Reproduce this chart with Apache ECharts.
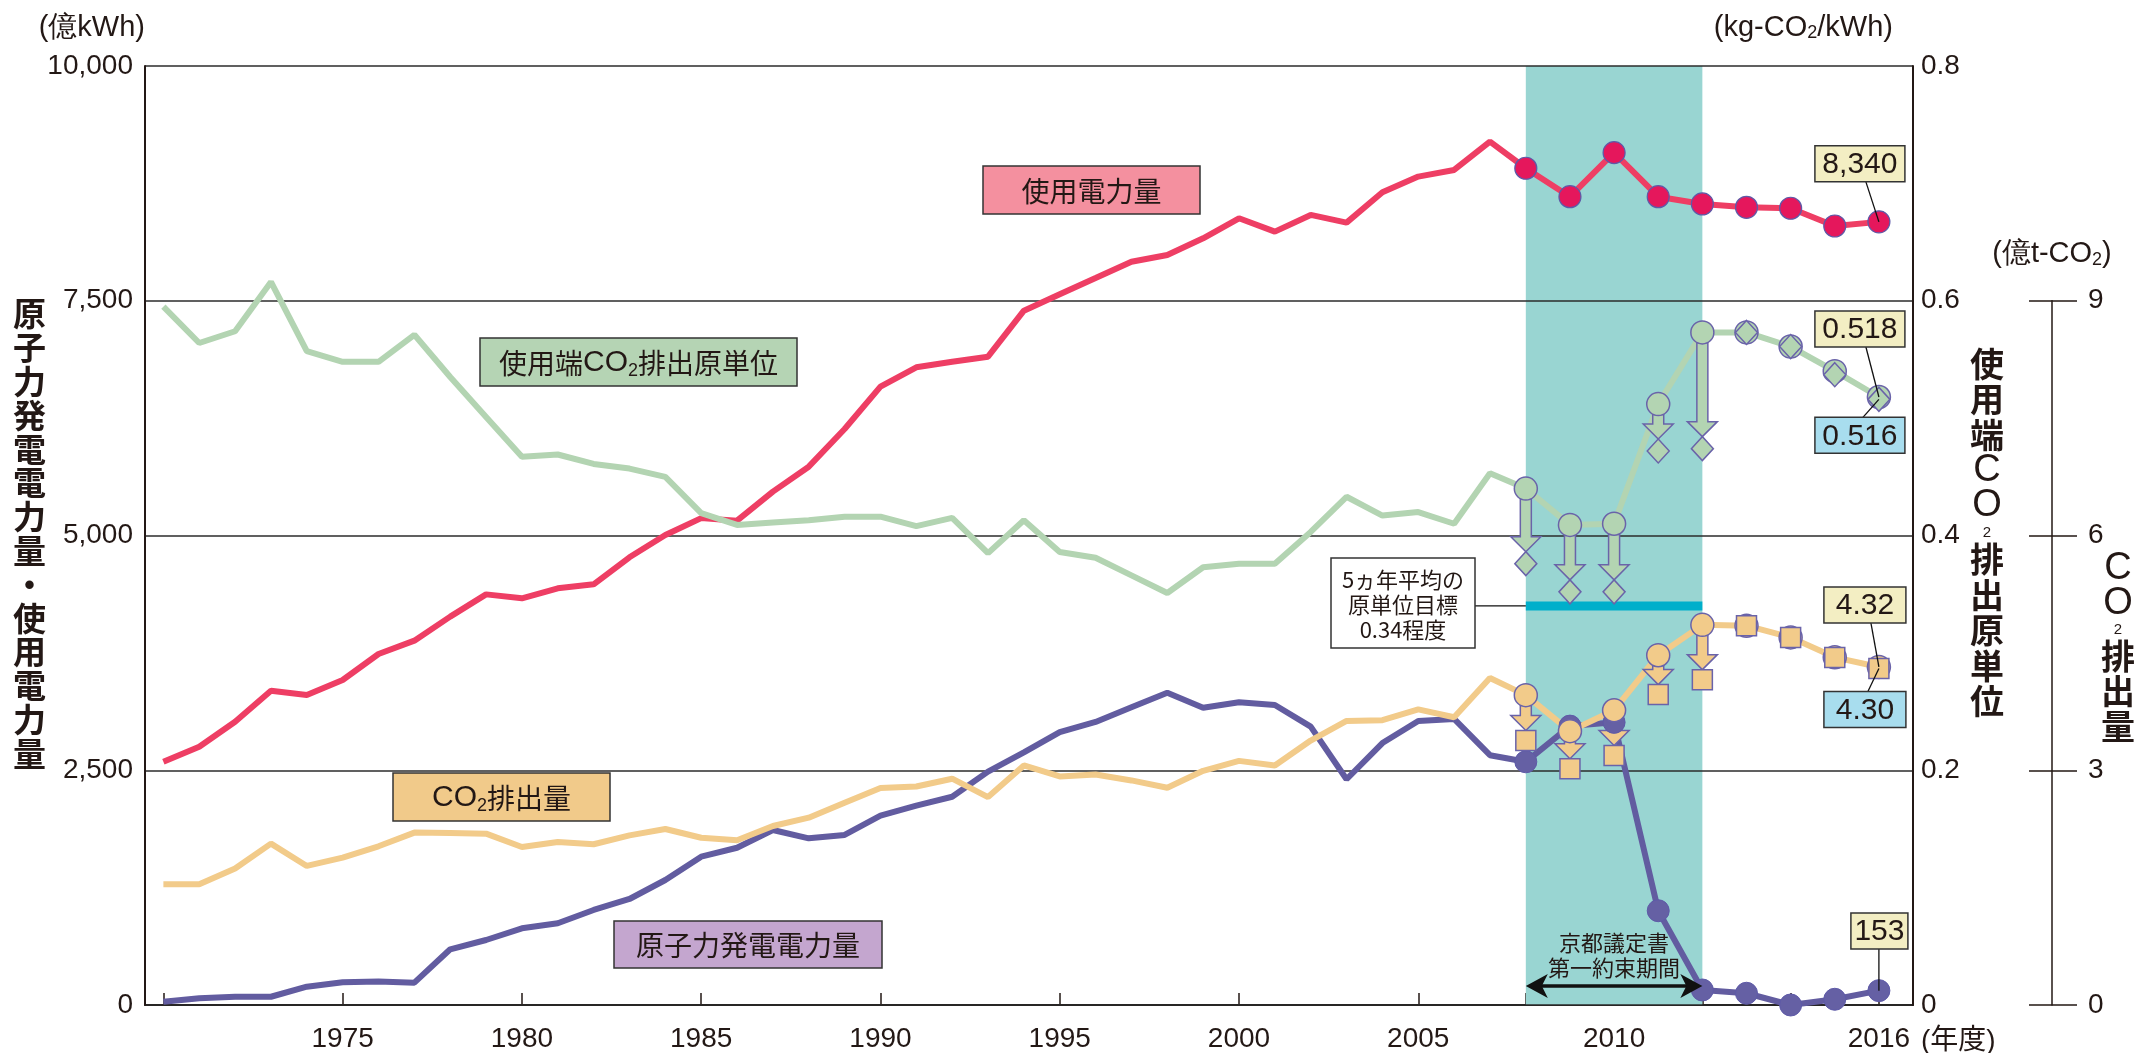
<!DOCTYPE html>
<html><head><meta charset="utf-8">
<script src="https://cdn.jsdelivr.net/npm/echarts@6/dist/echarts.min.js"></script>
<style>html,body{margin:0;padding:0;background:#fff}#c{width:2136px;height:1053px}</style>
</head><body><div id="c"></div>
<script>
// ---------------- data ----------------
const years = [1970,1971,1972,1973,1974,1975,1976,1977,1978,1979,
  1980,1981,1982,1983,1984,1985,1986,1987,1988,1989,
  1990,1991,1992,1993,1994,1995,1996,1997,1998,1999,
  2000,2001,2002,2003,2004,2005,2006,2007,2008,2009,
  2010,2011,2012,2013,2014,2015,2016];
// 使用電力量 (億kWh)
const electricity = [2590,2750,3017,3347,3301,3461,3738,3880,4136,4373,
  4331,4438,4480,4768,5005,5185,5158,5467,5733,6134,
  6585,6791,6851,6904,7394,7569,7742,7916,7987,8165,
  8378,8236,8414,8332,8655,8822,8893,9195,8911,8608,
  9077,8608,8531,8495,8485,8296,8340];
// 原子力発電電力量 (億kWh)
const nuclear = [35,71,88,88,195,242,249,238,593,692,
  817,870,1012,1129,1331,1580,1675,1864,1775,1811,
  2016,2123,2218,2485,2690,2906,3014,3170,3326,3166,
  3225,3195,2964,2404,2790,3025,3046,2660,2590,2970,
  3010,1004,160,125,0,61,153];
// 使用端CO2排出原単位 (kg-CO2/kWh)
const intensity = [0.595,0.564,0.574,0.616,0.557,0.548,0.548,0.571,0.535,0.501,
  0.467,0.469,0.461,0.457,0.450,0.419,0.409,0.411,0.413,0.416,
  0.416,0.408,0.415,0.385,0.413,0.386,0.381,0.366,0.351,0.373,
  0.376,0.376,0.403,0.433,0.417,0.420,0.410,0.453,0.440,0.409,
  0.410,0.512,0.573,0.573,0.561,0.540,0.518];
// CO2排出量 (億t-CO2)
const emissions = [1.543,1.543,1.744,2.062,1.777,1.884,2.028,2.203,2.198,2.190,
  2.019,2.083,2.054,2.168,2.249,2.137,2.105,2.287,2.394,2.585,
  2.772,2.793,2.892,2.657,3.061,2.921,2.946,2.870,2.777,2.993,
  3.120,3.061,3.380,3.630,3.640,3.778,3.677,4.178,3.960,3.500,
  3.767,4.470,4.858,4.847,4.698,4.443,4.320];
// values after credits (2008-2016)
const creditYears = [2008,2009,2010,2011,2012,2013,2014,2015,2016];
const intensityAdj = [0.376,0.352,0.352,0.472,0.474,0.573,0.561,0.537,0.516];
const emissionsAdj = [3.380,3.019,3.189,3.967,4.158,4.847,4.698,4.440,4.300];
// Kyoto first commitment period & target
const kyotoStart = 2008, kyotoEnd = 2012;
const intensityTarget = 0.34;
// axis ticks / labels
const xTickYears = [1970,1975,1980,1985,1990,1995,2000,2005,2008,2009,2010,2011,2012,2013,2014,2015,2016];
const xLabelYears = [1975,1980,1985,1990,1995,2000,2005,2010,2016];
const leftAxisMax = 10000, leftAxisStep = 2500;
const rightAxisMax = 0.8, rightAxisStep = 0.2;
const co2AxisShownMax = 9, co2AxisMax = 12, co2AxisStep = 3;

// ---------------- helpers ----------------
// the reference widens the years from 2008 on
const BREAK = 2008, STRETCH = 1.231;
const xv = y => y <= BREAK ? y : BREAK + (y - BREAK) * STRETCH;
const invXv = v => v <= BREAK ? v : BREAK + (v - BREAK) / STRETCH;
const X_MIN = 1969.487, X_MAX = xv(2016) + 0.951;

const INK = '#231815';
const NUM = "'Liberation Sans', Arial, sans-serif";
const JP = "'Noto Sans CJK JP', sans-serif";
const C_RED = '#EE3E64', C_RED_M = '#E5175C';
const C_GREEN = '#B3D4B2';
const C_PURPLE = '#625CA0';
const C_ORANGE = '#F2CB8A';
const C_EDGE = '#6A63A9';

const idx08 = years.indexOf(BREAK);
const pairs = arr => years.map((y, i) => [xv(y), arr[i]]);
const fromIdx = (arr) => years.slice(idx08).map((y, i) => [xv(y), arr[idx08 + i]]);

function arrowRender(tipGap) {
  return function (params, api) {
    const x = api.value(0);
    const p0 = api.coord([x, api.value(1)]);
    const p1 = api.coord([x, api.value(2)]);
    const tip = p1[1] - tipGap;
    if (tip - p0[1] < 16) return null;
    const hb = tip - 15, sw = 5.5, hw = 15, cx = p0[0];
    return {
      type: 'polygon',
      shape: { points: [[cx - sw, p0[1]], [cx + sw, p0[1]], [cx + sw, hb], [cx + hw, hb], [cx, tip], [cx - hw, hb], [cx - sw, hb]] },
      style: { fill: api.visual('color'), stroke: C_EDGE, lineWidth: 1.5 }
    };
  };
}

const labelStyle = { fontSize: 28, fontFamily: NUM, color: INK };
const subRich = { s: { fontSize: 18, fontFamily: NUM, color: INK, verticalAlign: 'bottom', lineHeight: 22 } };

const option = {
  animation: false,
  backgroundColor: '#ffffff',
  grid: [
    { left: 145, right: 223, top: 66, height: 939 },
    { left: 2052, width: 1, top: 66 + 939 * (1 - co2AxisShownMax / co2AxisMax), height: 939 * co2AxisShownMax / co2AxisMax }
  ],
  xAxis: [
    { gridIndex: 0, type: 'value', min: X_MIN, max: X_MAX,
      axisLine: { show: true, onZero: false, lineStyle: { color: INK, width: 2 } },
      axisTick: { show: true, inside: true, length: 12, customValues: xTickYears.map(xv), lineStyle: { color: INK, width: 1.5 } },
      axisLabel: Object.assign({ customValues: xLabelYears.map(xv), margin: 20,
        formatter: v => String(Math.round(invXv(v))) }, labelStyle),
      splitLine: { show: false } },
    { gridIndex: 1, type: 'value', min: 0, max: 1, show: false }
  ],
  yAxis: [
    { gridIndex: 0, type: 'value', position: 'left', min: 0, max: leftAxisMax, interval: leftAxisStep, z: 2,
      axisLine: { show: true, lineStyle: { color: INK, width: 2 } },
      axisTick: { show: false },
      axisLabel: Object.assign({ margin: 12, formatter: v => v.toLocaleString('en-US') }, labelStyle),
      splitLine: { show: true, lineStyle: { color: '#2b2b2b', width: 1.5 } },
      name: '(億kWh)', nameLocation: 'end', nameGap: 24,
      nameTextStyle: { align: 'right', fontSize: 29, fontFamily: NUM, color: INK } },
    { gridIndex: 0, type: 'value', position: 'right', min: 0, max: rightAxisMax, interval: rightAxisStep, z: 2,
      axisLine: { show: true, lineStyle: { color: INK, width: 2 } },
      axisTick: { show: false },
      axisLabel: Object.assign({ margin: 8, formatter: v => v === 0 ? '0' : v.toFixed(1) }, labelStyle),
      splitLine: { show: false },
      name: '(kg-CO{s|2}/kWh)', nameLocation: 'end', nameGap: 24,
      nameTextStyle: { align: 'right', padding: [0, 20, 0, 0], fontSize: 29, fontFamily: NUM, color: INK, rich: subRich } },
    { gridIndex: 0, type: 'value', min: 0, max: co2AxisMax, show: false },
    { gridIndex: 1, type: 'value', position: 'right', min: 0, max: co2AxisShownMax, interval: co2AxisStep,
      axisLine: { show: true, lineStyle: { color: INK, width: 1.5 } },
      axisTick: { show: true, length: 25, lineStyle: { color: INK, width: 1.5 } },
      axisLabel: Object.assign({ margin: 35 }, labelStyle),
      splitLine: { show: false },
      name: '(億t-CO{s|2})', nameLocation: 'end', nameGap: 32,
      nameTextStyle: { align: 'center', fontSize: 29, fontFamily: NUM, color: INK, rich: subRich } },
    { gridIndex: 1, type: 'value', position: 'left', min: 0, max: co2AxisShownMax, interval: co2AxisStep,
      axisLine: { show: false }, axisLabel: { show: false }, splitLine: { show: false },
      axisTick: { show: true, length: 23, lineStyle: { color: INK, width: 1.5 } } }
  ],
  series: [
    { name: 'band', type: 'line', data: [], xAxisIndex: 0, yAxisIndex: 0, z: 1, silent: true,
      markArea: { silent: true, itemStyle: { color: '#99D5D2', opacity: 1 },
        data: [[{ xAxis: xv(kyotoStart) }, { xAxis: xv(kyotoEnd) }]] } },
    { name: '使用電力量', type: 'line', yAxisIndex: 0, data: pairs(electricity), showSymbol: false, z: 3,
      lineStyle: { color: C_RED, width: 6 }, itemStyle: { color: C_RED } },
    { name: '使用端CO2排出原単位', type: 'line', yAxisIndex: 1, data: pairs(intensity), showSymbol: false, z: 3,
      lineStyle: { color: C_GREEN, width: 6 }, itemStyle: { color: C_GREEN } },
    { name: '原子力発電電力量', type: 'line', yAxisIndex: 0, data: pairs(nuclear), showSymbol: false, z: 3,
      lineStyle: { color: C_PURPLE, width: 6 }, itemStyle: { color: C_PURPLE } },
    { name: 'CO2排出量', type: 'line', yAxisIndex: 2, data: pairs(emissions), showSymbol: false, z: 3,
      lineStyle: { color: C_ORANGE, width: 6 }, itemStyle: { color: C_ORANGE } },
    { name: 'target', type: 'line', yAxisIndex: 1, showSymbol: false, z: 3,
      data: [[xv(kyotoStart), intensityTarget], [xv(kyotoEnd), intensityTarget]],
      lineStyle: { color: '#00AFCB', width: 9, cap: 'butt' } },
    { name: 'arrowG', type: 'custom', yAxisIndex: 1, z: 4, itemStyle: { color: C_GREEN },
      encode: { x: 0, y: [1, 2] }, renderItem: arrowRender(12),
      data: creditYears.map((y, i) => [xv(y), intensity[years.indexOf(y)], intensityAdj[i]]) },
    { name: 'arrowO', type: 'custom', yAxisIndex: 2, z: 4, itemStyle: { color: C_ORANGE },
      encode: { x: 0, y: [1, 2] }, renderItem: arrowRender(10),
      data: creditYears.map((y, i) => [xv(y), emissions[years.indexOf(y)], emissionsAdj[i]]) },
    { type: 'scatter', yAxisIndex: 0, z: 5, data: fromIdx(electricity), symbol: 'circle', symbolSize: 22,
      itemStyle: { color: C_RED_M, borderColor: '#5E5AA8', borderWidth: 1.2, opacity: 1 } },
    { type: 'scatter', yAxisIndex: 0, z: 5, data: fromIdx(nuclear), symbol: 'circle', symbolSize: 22,
      itemStyle: { color: '#6560A4', borderColor: '#5E5AA8', borderWidth: 1, opacity: 1 } },
    { type: 'scatter', yAxisIndex: 1, z: 5, data: fromIdx(intensity), symbol: 'circle', symbolSize: 23,
      itemStyle: { color: C_GREEN, borderColor: C_EDGE, borderWidth: 1.5, opacity: 1 } },
    { type: 'scatter', yAxisIndex: 2, z: 5, data: fromIdx(emissions), symbol: 'circle', symbolSize: 23,
      itemStyle: { color: C_ORANGE, borderColor: C_EDGE, borderWidth: 1.5, opacity: 1 } },
    { type: 'scatter', yAxisIndex: 1, z: 6, data: creditYears.map((y, i) => [xv(y), intensityAdj[i]]),
      symbol: 'diamond', symbolSize: [22, 24],
      itemStyle: { color: C_GREEN, borderColor: C_EDGE, borderWidth: 1.5, opacity: 1 } },
    { type: 'scatter', yAxisIndex: 2, z: 6, data: creditYears.map((y, i) => [xv(y), emissionsAdj[i]]),
      symbol: 'rect', symbolSize: 20,
      itemStyle: { color: C_ORANGE, borderColor: C_EDGE, borderWidth: 1.5, opacity: 1 } }
  ]
};

const chart = echarts.init(document.getElementById('c'));
chart.setOption(option);

// ---------------- annotations ----------------
const px = (ax, year, val) => chart.convertToPixel({ xAxisIndex: 0, yAxisIndex: ax }, [xv(year), val]);
const last = years.length - 1, lastYear = years[last];
const G = [];
const EDGE = '#333333';

function box(x, y, w, h, fill, text, rich, font) {
  G.push({ type: 'rect', z: 100, shape: { x, y, width: w, height: h },
    style: { fill, stroke: EDGE, lineWidth: 1.5 } });
  G.push({ type: 'text', z: 101, style: { x: x + w / 2, y: y + h / 2 + 1, text, rich, font,
    fill: INK, align: 'center', verticalAlign: 'middle' } });
}
function connector(x1, y1, x2, y2) {
  G.push({ type: 'line', z: 99, shape: { x1, y1, x2, y2 }, style: { stroke: '#111', lineWidth: 1.3 } });
}
const jpRich = {
  j: { fontFamily: JP, fontSize: 28, fill: INK, lineHeight: 34 },
  c: { fontFamily: NUM, fontSize: 30, fill: INK, lineHeight: 34 },
  s: { fontFamily: NUM, fontSize: 18, fill: INK, lineHeight: 26, verticalAlign: 'bottom' }
};
// series name boxes
box(983, 166, 217, 48, '#F4909F', '{j|使用電力量}', jpRich);
box(480, 338, 317, 48, '#B5D4B4', '{j|使用端}{c|CO}{s|2}{j|排出原単位}', jpRich);
box(393, 773, 217, 48, '#F1CA8A', '{c|CO}{s|2}{j|排出量}', jpRich);
box(614, 921, 268, 47, '#C4A6CF', '{j|原子力発電電力量}', jpRich);

// value boxes attached to the last year's points
const VFONT = "30px 'Liberation Sans', Arial, sans-serif";
function valueBox(p, dx, dy, w, text, fill, lineFromTop) {
  const cx = p[0] + dx, cy = p[1] + dy, h = 36;
  const ly = lineFromTop ? cy - h / 2 : cy + h / 2;
  connector(cx + (lineFromTop ? 3 : 6), ly, p[0], p[1]);
  box(cx - w / 2, cy - h / 2, w, h, fill, text, null, VFONT);
}
const YEL = '#F3EEC3', BLU = '#A8DDEE';
valueBox(px(0, lastYear, electricity[last]), -19, -58, 90, electricity[last].toLocaleString('en-US'), YEL, false);
valueBox(px(1, lastYear, intensity[last]), -19, -68, 90, intensity[last].toFixed(3), YEL, false);
valueBox(px(1, lastYear, intensityAdj[intensityAdj.length - 1]), -19, 36, 90, intensityAdj[intensityAdj.length - 1].toFixed(3), BLU, true);
valueBox(px(2, lastYear, emissions[last]), -14, -62, 82, emissions[last].toFixed(2), YEL, false);
valueBox(px(2, lastYear, emissionsAdj[emissionsAdj.length - 1]), -14, 41, 82, emissionsAdj[emissionsAdj.length - 1].toFixed(2), BLU, true);
(function () {
  const p = px(0, lastYear, nuclear[last]);
  const cx = p[0] + 0.5, cy = p[1] - 59.6;
  connector(p[0], cy + 18, p[0], p[1]);
  box(cx - 28.5, cy - 18, 57, 36, YEL, String(nuclear[last]), null, VFONT);
})();

// target note
(function () {
  const t = px(1, kyotoStart, intensityTarget);
  connector(1475, t[1], t[0], t[1]);
  G.push({ type: 'rect', z: 100, shape: { x: 1331, y: 558, width: 144, height: 90 },
    style: { fill: '#fff', stroke: EDGE, lineWidth: 1.5 } });
  G.push({ type: 'text', z: 101, style: { x: 1403, y: 605, text: '5ヵ年平均の\n原単位目標\n0.34程度',
    font: "22px 'Noto Sans CJK JP', sans-serif", lineHeight: 25, fill: INK, align: 'center', verticalAlign: 'middle' } });
})();

// Kyoto period arrow and text
(function () {
  const a = px(0, kyotoStart, 0), b = px(0, kyotoEnd, 0), m = px(0, 2010, 0);
  const y = 986;
  G.push({ type: 'text', z: 101, style: { x: m[0], y: 955, text: '京都議定書\n第一約束期間',
    font: "22px 'Noto Sans CJK JP', sans-serif", lineHeight: 25, fill: INK, align: 'center', verticalAlign: 'middle' } });
  G.push({ type: 'line', z: 100, shape: { x1: a[0] + 15, y1: y, x2: b[0] - 15, y2: y }, style: { stroke: '#111', lineWidth: 3.5 } });
  G.push({ type: 'polygon', z: 100, shape: { points: [[a[0], y], [a[0] + 22, y - 12], [a[0] + 16, y], [a[0] + 22, y + 12]] }, style: { fill: '#111' } });
  G.push({ type: 'polygon', z: 100, shape: { points: [[b[0], y], [b[0] - 22, y - 12], [b[0] - 16, y], [b[0] - 22, y + 12]] }, style: { fill: '#111' } });
})();

// (年度)
G.push({ type: 'text', z: 101, style: { x: 1921, y: 1027, text: '(年度)', font: "28px 'Liberation Sans', 'Noto Sans CJK JP', sans-serif",
  fill: INK, align: 'left', verticalAlign: 'top' } });

// vertical axis titles
const vRich = {
  j: { fontFamily: JP, fontSize: 34, fontWeight: 'bold', fill: INK, lineHeight: 35.5 },
  c: { fontFamily: NUM, fontSize: 38, fill: INK, lineHeight: 35.5 },
  s: { fontFamily: NUM, fontSize: 15, fill: INK, lineHeight: 18 }
};
const vt = (parts) => parts.join('\n');
G.push({ type: 'text', z: 101, style: { x: 29.5, y: 297, align: 'center', verticalAlign: 'top',
  text: '原子力発電電力量・使用電力量'.split('').join('\n'),
  font: "bold 33px 'Noto Sans CJK JP', sans-serif", lineHeight: 33.8, fill: INK } });
G.push({ type: 'text', z: 101, style: { x: 1987, y: 346, align: 'center', verticalAlign: 'top', rich: vRich,
  text: vt(['{j|使}', '{j|用}', '{j|端}', '{c|C}', '{c|O}', '{s|2}', '{j|排}', '{j|出}', '{j|原}', '{j|単}', '{j|位}']) } });
G.push({ type: 'text', z: 101, style: { x: 2118, y: 551, align: 'center', verticalAlign: 'top',
  rich: Object.assign({}, vRich, { j: Object.assign({}, vRich.j, { lineHeight: 35 }), c: Object.assign({}, vRich.c, { lineHeight: 35 }) }),
  text: vt(['{c|C}', '{c|O}', '{s|2}', '{j|排}', '{j|出}', '{j|量}']) } });

chart.setOption({ graphic: { elements: G } });
</script>
</body></html>
